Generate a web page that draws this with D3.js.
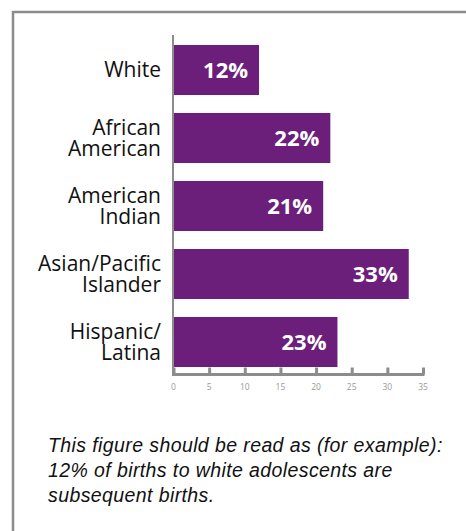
<!DOCTYPE html>
<html><head><meta charset="utf-8">
<script src="https://cdn.jsdelivr.net/npm/d3@7"></script>
<style>body{margin:0;background:#fff}svg{display:block}</style>
</head><body><svg id="c" width="466" height="531"></svg>
<script>
const categories = [["White"],["African","American"],["American","Indian"],["Asian/Pacific","Islander"],["Hispanic/","Latina"]];
const values = [12,22,21,33,23];
const xTicks = [0,5,10,15,20,25,30,35];
const captionLines = ["This figure should be read as (for example):","12% of births to white adolescents are","subsequent births."];

const svg = d3.select("#c");
const gray = "#8c8c8c", purple = "#6b1f7b";
// frame
svg.append("line").attr("x1",13).attr("x2",466).attr("y1",12).attr("y2",12).attr("stroke",gray).attr("stroke-width",2.5);
svg.append("line").attr("x1",13).attr("x2",13).attr("y1",11).attr("y2",531).attr("stroke",gray).attr("stroke-width",2.5);

const keys = categories.map((c,i)=>i);
const y = d3.scaleBand().domain(keys).range([36,376]).paddingInner(18/68).paddingOuter(9/68);
const x = d3.scaleLinear().domain([0,35]).range([173.5,423]);

// bars
svg.selectAll("rect.bar").data(values).join("rect").attr("class","bar")
  .attr("x",x(0)).attr("y",(d,i)=>y(i)).attr("width",d=>x(d)-x(0)).attr("height",y.bandwidth()).attr("fill",purple);

// vertical axis line
svg.append("line").attr("x1",173).attr("x2",173).attr("y1",35).attr("y2",376).attr("stroke",gray).attr("stroke-width",2);

// x axis
const xa = svg.append("g").attr("transform","translate(0,374.5)")
  .call(d3.axisTop(x).tickValues(xTicks).tickSize(7).tickFormat(""));
xa.select(".domain").attr("stroke",gray).attr("stroke-width",3).attr("d",`M${x(0)-1.5},0H${x(35)+1.5}`);
xa.selectAll(".tick line").attr("stroke",gray).attr("stroke-width",3);
svg.append("g").selectAll("text").data(xTicks).join("text")
  .attr("x",d=>x(d)).attr("y",390).attr("text-anchor","middle")
  .attr("font-family","Open Sans").attr("font-size",8.5).attr("fill","#999").text(d=>d);

// category labels
const lab = svg.append("g").selectAll("text").data(categories).join("text")
  .attr("text-anchor","end").attr("font-family","Open Sans").attr("font-size",21).attr("fill","#111");
lab.each(function(lines,i){
  const cy = y(i)+y.bandwidth()/2;
  const lh = 21;
  const first = cy + 7 - (lines.length-1)*lh/2;
  d3.select(this).selectAll("tspan").data(lines).join("tspan")
    .attr("x",161).attr("y",(d,j)=>first+j*lh).text(d=>d);
});

// value labels
svg.append("g").selectAll("text").data(values).join("text")
  .attr("x",d=>x(d)-11).attr("y",(d,i)=>y(i)+y.bandwidth()/2+8)
  .attr("text-anchor","end").attr("font-family","Open Sans").attr("font-weight","bold")
  .attr("font-size",22).attr("fill","#fff").text(d=>d+"%");

// caption
svg.append("g").selectAll("text").data(captionLines).join("text")
  .attr("x",48).attr("y",(d,i)=>452+i*25).attr("font-family","Liberation Sans").attr("font-style","italic")
  .attr("font-size",19.5).attr("letter-spacing",0.4).attr("fill","#111").text(d=>d);
</script></body></html>
